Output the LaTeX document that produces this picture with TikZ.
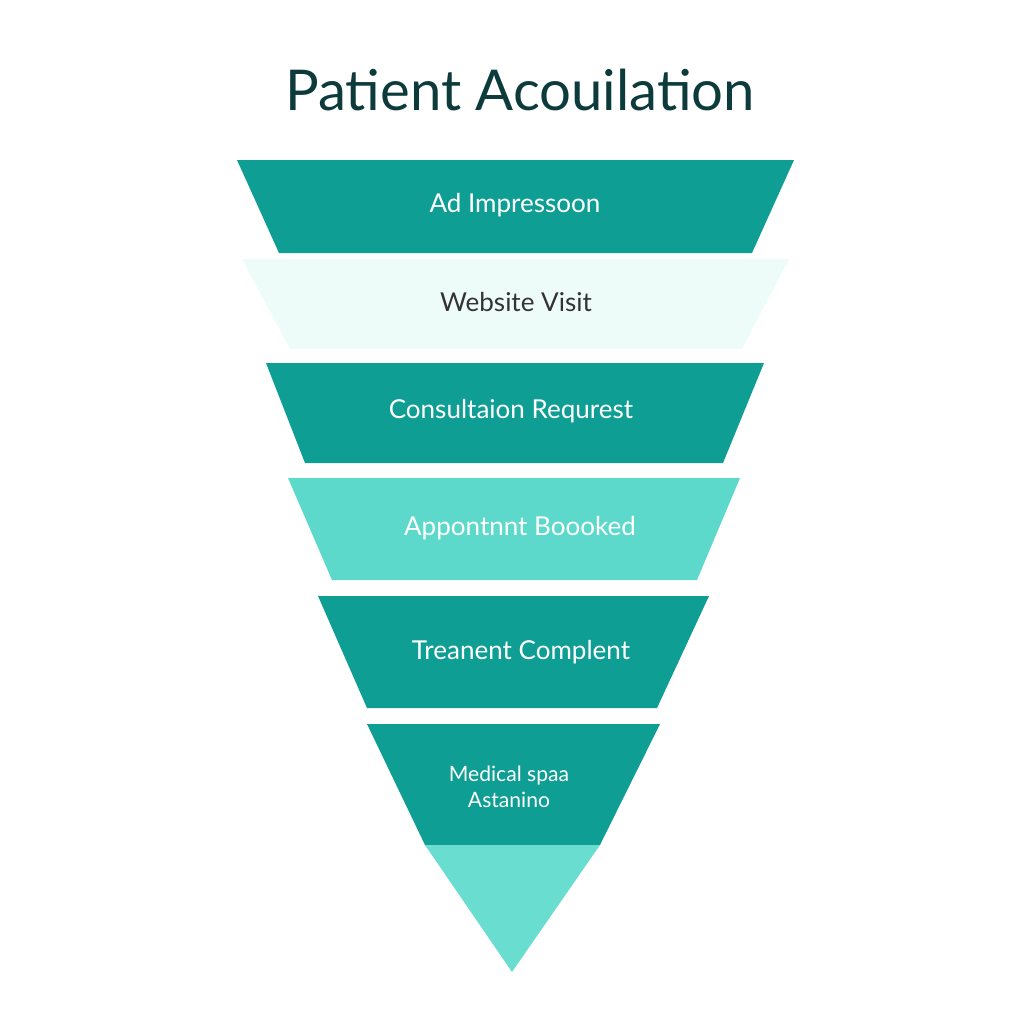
\documentclass[tikz,border=0pt]{standalone}
\usepackage{fontspec}
\setmainfont{Lato}
\usepackage{tikz}
\definecolor{tealdark}{HTML}{0E9E94}
\definecolor{tealmid}{HTML}{5CD9CB}
\definecolor{tealtip}{HTML}{68DDD0}
\definecolor{mintlight}{HTML}{EEFCF9}
\definecolor{titleink}{HTML}{0D3B3B}
\tikzset{
  band/.style={draw=none},
  bandlbl/.style={font=\fontsize{7.4}{9}\selectfont, text=white},
}
\begin{document}
\begin{tikzpicture}[x=0.01cm, y=-0.01cm]

  % 画布
  \useasboundingbox (0,0) rectangle (1024,1024);

  % 标题
  \node[font=\fontsize{16}{19}\selectfont, text=titleink] (title) at (520,90) {Patient Acouilation};

  % ---- 漏斗各层 ----
  \fill[tealdark]  (237,160) -- (794,160) -- (752,253) -- (279,253) -- cycle;
  \fill[mintlight] (242,259) -- (789,259) -- (742,349) -- (290,349) -- cycle;
  \fill[tealdark]  (266,363) -- (764,363) -- (723,463) -- (305,463) -- cycle;
  \fill[tealmid]   (288,478) -- (740,478) -- (697,580) -- (332,580) -- cycle;
  \fill[tealdark]  (318,596) -- (709,596) -- (657,708) -- (367,708) -- cycle;
  \fill[tealdark]  (367,724) -- (660,724) -- (600,845) -- (425,845) -- cycle;
  \fill[tealtip]   (425,845) -- (600,845) -- (512,972) -- cycle;

  % 标签
  \node[bandlbl] (ad)    at (515,205) {Ad Impressoon};
  \node[bandlbl, text=black!80] (visit) at (516,302) {Website Visit};
  \node[bandlbl] (cons)  at (511,411) {Consultaion Requrest};
  \node[bandlbl] (appt)  at (520,528) {Appontnnt Boooked};
  \node[bandlbl] (treat) at (521,652) {Treanent Complent};
  \node[bandlbl, font=\fontsize{6}{7.4}\selectfont, align=center] (spa) at (509,787) {Medical spaa\\Astanino};

\end{tikzpicture}
\end{document}
